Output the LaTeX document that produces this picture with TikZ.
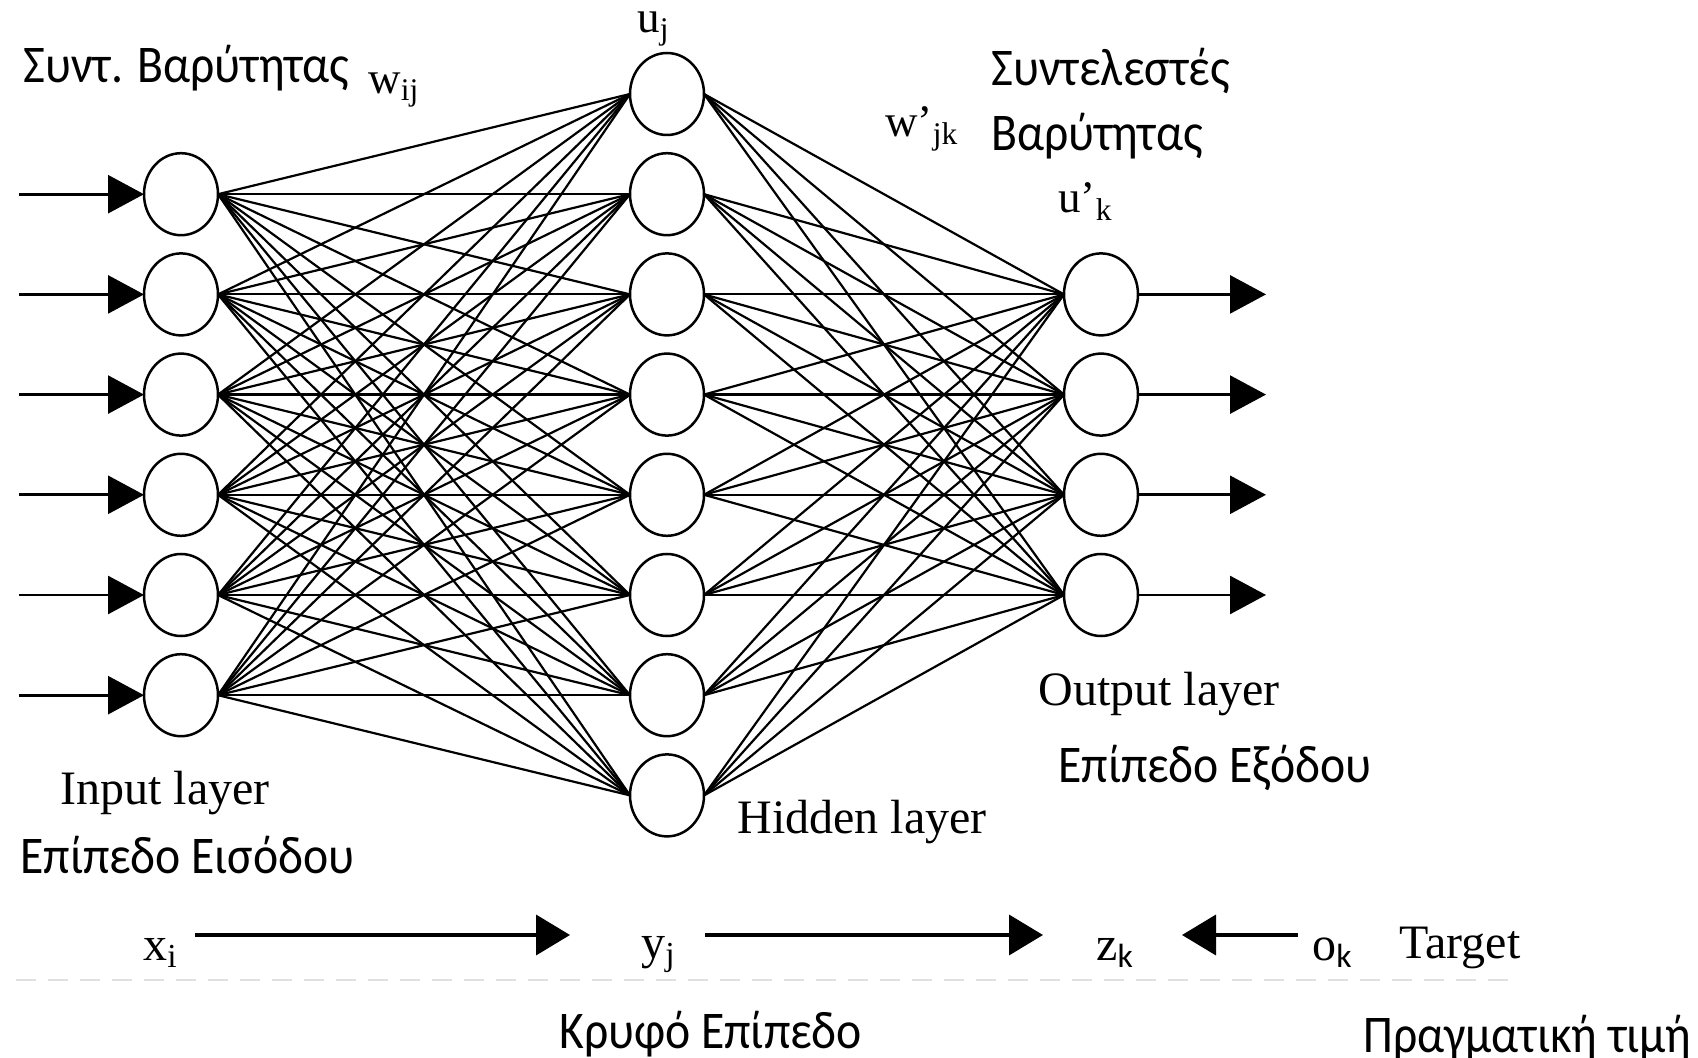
\documentclass[tikz,border=0pt]{standalone}
\usepackage{fontspec}
\setmainfont{Liberation Serif}
\newfontfamily\grk[FakeStretch=0.9]{Carlito}
\newfontfamily\sansk{Carlito}
\usetikzlibrary{arrows.meta,shapes.geometric}
\begin{document}
\begin{tikzpicture}[x=0.5pt,y=-0.5pt,
  neuron/.style={ellipse,draw,line width=1.25pt,minimum width=37pt,minimum height=41pt,inner sep=0pt,outer sep=0pt},
  conn/.style={line width=1.1pt},
  sidearrow/.style={line width=1.4pt,-{Triangle[length=18pt,width=19pt]}},
  botarrow/.style={line width=1.9pt,-{Triangle[length=17pt,width=20pt]}},
  serif/.style={inner sep=0pt,anchor=base west,font=\fontsize{24}{28}\selectfont},
  small/.style={inner sep=0pt,anchor=base west,font=\fontsize{22.5}{26}\selectfont},
  greek/.style={inner sep=0pt,anchor=base west,font=\grk\fontsize{26.5}{30}\selectfont},
]
\useasboundingbox (0,0) rectangle (1698,1058);
\fill[white] (0,0) rectangle (1698,1058);

% neurons
\foreach \j in {1,...,8} \node[neuron] (h\j) at (667,{94+100.2*(\j-1)}) {};
\foreach \i in {1,...,6} \node[neuron] (i\i) at (181,{194.2+100.2*(\i-1)}) {};
\foreach \k in {1,...,4} \node[neuron] (o\k) at (1101,{294.4+100.2*(\k-1)}) {};

% connections
\foreach \i in {1,...,6} \foreach \j in {1,...,8} \draw[conn] (i\i.east) -- (h\j.west);
\foreach \j in {1,...,8} \foreach \k in {1,...,4} \draw[conn] (h\j.east) -- (o\k.west);

% input / output arrows
\foreach \i in {1,...,6} {
  \coordinate (s\i) at (19,{194.2+100.2*(\i-1)});
  \draw[sidearrow] (s\i) -- (i\i.west);
}
\foreach \k in {1,...,4} {
  \coordinate (t\k) at (1266,{294.4+100.2*(\k-1)});
  \draw[sidearrow] (o\k.east) -- (t\k);
}

% top labels
\node[greek] (lw1) at (23,83) {Συντ. Βαρύτητας};
\node[small] (wij) at (368,94) {w\textsubscript{ij}};
\node[small] (uj) at (637,33) {u\textsubscript{j}};
\node[small] (wjk) at (885,137) {w’\textsubscript{jk}};
\node[greek] (lw2a) at (991,86) {Συντελεστές};
\node[greek] (lw2b) at (991,151) {Βαρύτητας};
\node[small] (uk) at (1058,213) {u’\textsubscript{k}};

% layer labels
\node[serif] (outl) at (1038,705) {Output layer};
\node[greek] (outg) at (1058,783) {Επίπεδο Εξόδου};
\node[serif] (inl) at (60,805) {Input layer};
\node[greek] (ing) at (20,873) {Επίπεδο Εισόδου};
\node[serif] (hidl) at (737,833) {Hidden layer};

% bottom row
\node[serif] (xi) at (143,960) {x\textsubscript{i}};
\node[serif] (yj) at (641,958) {y\textsubscript{j}};
\node[serif] (zk) at (1096,960) {z\textsubscript{\sansk k}};
\node[serif] (ok) at (1312,960) {o\textsubscript{\sansk k}};
\node[serif] (tgt) at (1399,958) {Target};
\node[greek] (hidg) at (559,1048) {Κρυφό Επίπεδο};
\node[greek] (real) at (1363,1052) {Πραγματική τιμή};

\coordinate (b1s) at (195,935);
\coordinate (b1e) at (570,935);
\coordinate (b2s) at (705,935);
\coordinate (b2e) at (1043,935);
\coordinate (b3s) at (1298,935);
\coordinate (b3e) at (1182,935);
\draw[botarrow] (b1s) -- (b1e);
\draw[botarrow] (b2s) -- (b2e);
\draw[botarrow] (b3s) -- (b3e);

% faint dashed rule
\coordinate (d1) at (16,980);
\coordinate (d2) at (1516,980);
\draw[gray!25,line width=1pt,dash pattern=on 10pt off 6pt] (d1) -- (d2);
\end{tikzpicture}
\end{document}
